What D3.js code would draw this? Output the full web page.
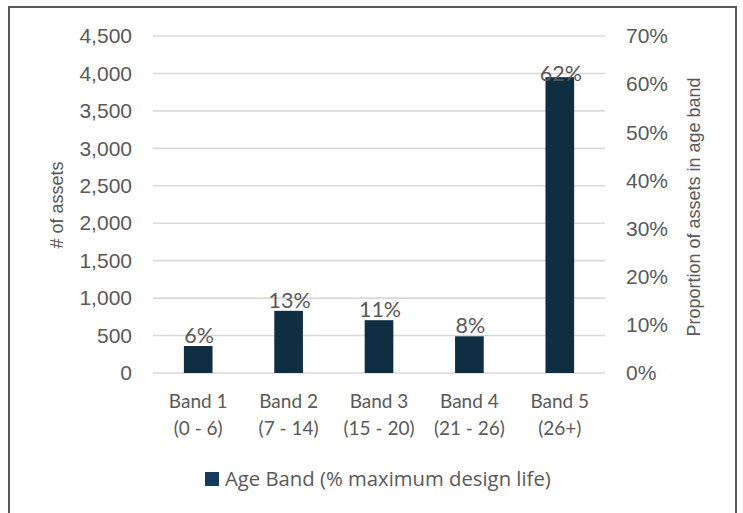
<!DOCTYPE html>
<html>
<head>
<meta charset="utf-8">
<script src="https://cdn.jsdelivr.net/npm/d3@7"></script>
<style>
  html, body { margin: 0; padding: 0; background: #ffffff; }
  svg { display: block; }
</style>
</head>
<body>
<script>
// Asset counts per age band (% of maximum design life)
const bandNames = ["Band 1", "Band 2", "Band 3", "Band 4", "Band 5"];
const bandRanges = ["(0 - 6)", "(7 - 14)", "(15 - 20)", "(21 - 26)", "(26+)"];
const assetCounts = [360, 830, 705, 490, 3950];
const leftTicks = [0, 500, 1000, 1500, 2000, 2500, 3000, 3500, 4000, 4500];
const rightTicks = [0, 0.1, 0.2, 0.3, 0.4, 0.5, 0.6, 0.7];
const seriesName = "Age Band (% maximum design life)";

const W = 743, H = 513;
const plot = { left: 153, right: 605, top: 36, bottom: 373 };
const barColor = "#0f2e41";
const textColor = "#595959";

const svg = d3.select("body").append("svg")
  .attr("width", W).attr("height", H);

svg.append("rect").attr("width", W).attr("height", H).attr("fill", "#fff");

// outer frame
svg.append("rect")
  .attr("x", 9).attr("y", 7)
  .attr("width", 727).attr("height", 520)
  .attr("fill", "none")
  .attr("stroke", "#595959")
  .attr("stroke-width", 2);

const total = d3.sum(assetCounts);

const x = d3.scaleBand().domain(bandNames).range([plot.left, plot.right]).padding(0);
const y = d3.scaleLinear().domain([0, 4500]).range([plot.bottom, plot.top]);
const y2 = d3.scaleLinear().domain([0, 0.7]).range([plot.bottom, plot.top]);

// gridlines
svg.append("g").selectAll("line").data(leftTicks).join("line")
  .attr("x1", plot.left).attr("x2", plot.right)
  .attr("y1", d => y(d)).attr("y2", d => y(d))
  .attr("stroke", "#d9d9d9").attr("stroke-width", 1.6);

// left axis
const leftAxis = svg.append("g")
  .attr("transform", `translate(${plot.left},0)`)
  .call(d3.axisLeft(y).tickValues(leftTicks).tickFormat(d3.format(",")).tickSize(0).tickPadding(21));
leftAxis.select(".domain").remove();
leftAxis.selectAll("text")
  .attr("font-family", "'Liberation Sans', Arial, sans-serif")
  .attr("font-size", 21).attr("fill", textColor);

// right axis
const rightAxis = svg.append("g")
  .attr("transform", `translate(${plot.right},0)`)
  .call(d3.axisRight(y2).tickValues(rightTicks).tickFormat(d3.format(".0%")).tickSize(0).tickPadding(21));
rightAxis.select(".domain").remove();
rightAxis.selectAll("text")
  .attr("font-family", "'Liberation Sans', Arial, sans-serif")
  .attr("font-size", 21).attr("fill", textColor);

// bars
const barW = x.bandwidth() * 0.317;
svg.append("g").selectAll("rect").data(assetCounts).join("rect")
  .attr("x", (d, i) => x(bandNames[i]) + (x.bandwidth() - barW) / 2)
  .attr("y", d => y(d))
  .attr("width", barW)
  .attr("height", d => y(0) - y(d))
  .attr("fill", barColor);

// share labels
const pct = d3.format(".0%");
svg.append("g").selectAll("text").data(assetCounts).join("text")
  .attr("x", (d, i) => x(bandNames[i]) + x.bandwidth() / 2 + 1)
  .attr("y", d => {
    const top = y(d);
    return top - plot.top < 50 ? top + 4 : top - 3;
  })
  .attr("text-anchor", "middle")
  .attr("font-family", "Lato, 'Open Sans', sans-serif")
  .attr("font-size", 21.5)
  .attr("fill", textColor)
  .text(d => pct(d / total));

// category labels
const cat = svg.append("g").selectAll("text").data(bandNames).join("text")
  .attr("x", d => x(d) + x.bandwidth() / 2)
  .attr("text-anchor", "middle")
  .attr("font-family", "Lato, 'Open Sans', sans-serif")
  .attr("font-size", 19)
  .attr("fill", textColor);
cat.append("tspan")
  .attr("x", d => x(d) + x.bandwidth() / 2)
  .attr("y", 408)
  .text(d => d);
cat.append("tspan")
  .attr("x", d => x(d) + x.bandwidth() / 2)
  .attr("y", 435)
  .text((d, i) => bandRanges[i]);

// axis titles
svg.append("text")
  .attr("transform", `translate(63,205) rotate(-90)`)
  .attr("text-anchor", "middle")
  .attr("font-family", "'Liberation Sans', Arial, sans-serif")
  .attr("font-size", 18)
  .attr("fill", textColor)
  .text("# of assets");

svg.append("text")
  .attr("transform", `translate(700,207) rotate(-90)`)
  .attr("text-anchor", "middle")
  .attr("font-family", "'Liberation Sans', Arial, sans-serif")
  .attr("font-size", 18)
  .attr("fill", textColor)
  .text("Proportion of assets in age band");

// legend
const legend = svg.append("g").attr("transform", "translate(205,472)");
legend.append("rect")
  .attr("width", 14).attr("height", 14)
  .attr("fill", "#153a5b");
legend.append("text")
  .attr("x", 20).attr("y", 14)
  .attr("font-family", "'Open Sans', Lato, sans-serif")
  .attr("font-size", 20.3)
  .attr("fill", textColor)
  .text(seriesName);
</script>
</body>
</html>
